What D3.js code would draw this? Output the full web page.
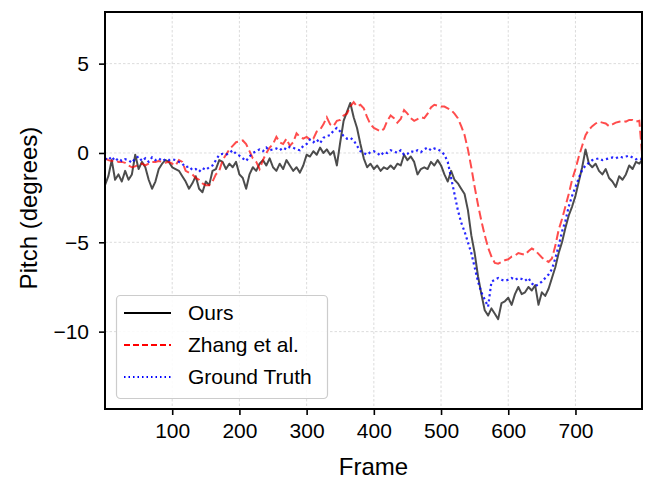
<!DOCTYPE html>
<html>
<head>
<meta charset="utf-8">
<script src="https://cdn.jsdelivr.net/npm/d3@7"></script>
<style>
  body { margin: 0; background: #fff; }
  svg { display: block; font-family: "Liberation Sans", Arial, sans-serif; }
</style>
</head>
<body>
<svg id="chart" width="649" height="479"></svg>
<script>
// frame index of every sample (every 5th frame + last frame)
var frames = d3.range(0, 800, 5).concat([799])

var ours = [-1.8,-1.3,-0.4,-1.5,-1.2,-1.6,-1.0,-1.5,-1.2,-0.1,
            -0.9,-0.5,-0.8,-1.5,-2.0,-1.6,-0.9,-0.6,-0.4,-0.5,
            -0.8,-0.9,-1.0,-1.3,-1.6,-2.0,-1.7,-1.3,-2.0,-2.2,
            -1.6,-1.8,-1.0,-0.9,-0.4,-0.5,-0.9,-0.6,-0.8,-0.5,
            -1.2,-1.4,-2.0,-1.2,-0.8,-1.0,-0.6,-0.4,-0.7,-0.3,
            -0.8,-1.0,-0.6,-0.9,-0.4,-0.7,-1.0,-0.8,-1.1,-0.7,
            -0.1,-0.2,0.1,-0.1,0.3,0.0,0.2,-0.1,0.1,-0.7,
            0.6,1.8,2.3,2.8,2.0,1.4,0.5,-0.3,-0.8,-0.6,
            -0.9,-0.7,-1.0,-0.8,-0.9,-0.7,-0.9,-0.6,-0.7,-0.1,
            -0.4,-0.2,-0.5,-1.2,-0.9,-0.8,-0.9,-0.5,-0.7,-0.4,
            -0.7,-1.2,-1.6,-1.0,-1.5,-1.7,-2.0,-2.3,-3.2,-4.6,
            -5.6,-6.9,-7.9,-8.8,-9.1,-8.7,-9.0,-9.3,-8.4,-8.3,
            -8.1,-8.5,-7.9,-7.5,-7.9,-7.8,-7.5,-7.7,-7.4,-8.5,
            -7.8,-8.0,-7.6,-7.0,-6.4,-5.6,-5.0,-4.2,-3.5,-3.0,
            -2.4,-1.6,-0.8,0.2,-0.6,-0.8,-0.6,-1.0,-1.2,-0.9,
            -1.4,-1.6,-1.9,-1.3,-1.5,-1.2,-0.7,-0.9,-0.5,-0.6,
            -0.4]

var zhang = [-0.3,-0.4,-0.45,-0.4,-0.5,-0.5,-0.55,-0.7,-0.8,-0.75,
             -0.65,-0.6,-0.7,-0.6,-0.5,-0.5,-0.45,-0.5,-0.55,-0.5,
             -0.6,-0.7,-0.4,-0.5,-1.0,-1.1,-1.2,-1.4,-1.5,-1.7,
             -1.8,-1.8,-1.6,-1.2,-1.0,-0.4,-0.1,0.2,0.4,0.6,
             0.65,0.7,0.5,0.1,-0.3,-0.5,-0.9,-0.4,0.0,0.3,
             0.5,0.9,0.6,0.5,0.8,0.4,0.6,1.1,0.9,0.8,
             0.9,0.75,0.8,1.2,1.3,1.6,2.0,1.6,1.5,1.8,
             1.85,2.1,2.2,2.6,2.85,2.6,2.7,2.5,2.0,1.6,
             1.4,1.3,1.2,1.35,1.8,2.1,1.95,1.7,1.9,2.4,
             2.2,1.95,1.8,1.9,2.0,1.95,2.2,2.55,2.7,2.65,
             2.6,2.6,2.5,2.4,2.2,1.95,1.5,1.0,0.2,-0.8,
             -1.9,-2.9,-3.8,-4.6,-5.3,-5.8,-6.15,-6.2,-6.1,-6.0,
             -5.95,-5.8,-5.75,-5.6,-5.65,-5.7,-5.5,-5.35,-5.45,-5.65,
             -5.85,-6.0,-6.1,-5.9,-5.2,-4.3,-3.7,-3.0,-2.3,-1.5,
             -0.9,-0.2,0.4,1.0,1.3,1.5,1.65,1.75,1.7,1.65,
             1.5,1.6,1.7,1.75,1.8,1.75,1.85,1.85,1.75,1.8,
             0.0]

var groundTruth = [-0.3,-0.4,-0.2,-0.45,-0.3,-0.45,-0.35,-0.4,-0.55,-0.3,
                   -0.2,-0.45,-0.3,-0.5,-0.25,-0.4,-0.3,-0.45,-0.35,-0.4,
                   -0.35,-0.4,-0.5,-0.6,-0.8,-0.75,-0.95,-0.9,-1.05,-0.85,
                   -0.95,-0.8,-0.7,-0.4,-0.1,-0.05,-0.1,0.0,0.15,-0.05,
                   -0.15,-0.3,-0.45,-0.2,0.0,0.1,0.2,0.1,0.3,0.15,
                   0.2,0.25,0.15,0.3,0.2,0.35,0.3,0.2,0.15,0.4,
                   0.5,0.75,0.6,0.75,0.55,0.85,0.95,1.0,1.25,1.4,
                   1.2,0.95,0.8,0.85,0.7,0.4,0.1,0.0,-0.1,0.05,
                   0.1,0.0,-0.15,0.05,0.0,0.15,0.1,0.0,0.15,-0.1,
                   -0.05,0.1,0.05,0.15,0.05,0.2,0.3,0.15,0.25,0.2,
                   0.1,-0.1,-0.5,-1.4,-2.3,-3.2,-3.9,-4.4,-5.0,-5.6,
                   -6.4,-7.2,-7.8,-8.2,-8.6,-7.2,-7.1,-7.0,-7.1,-7.15,
                   -7.1,-7.0,-7.1,-7.0,-7.05,-7.15,-7.0,-7.3,-7.45,-7.35,
                   -7.2,-7.0,-6.8,-6.5,-5.9,-5.2,-4.4,-3.8,-3.0,-2.4,
                   -1.9,-1.4,-0.95,-0.7,-0.55,-0.4,-0.35,-0.3,-0.4,-0.35,
                   -0.3,-0.25,-0.3,-0.2,-0.25,-0.2,-0.15,-0.25,-0.35,-0.3,
                   -0.35]

var xTicks = [100, 200, 300, 400, 500, 600, 700]
var yTicks = [5, 0, -5, -10]

var svg = d3.select("#chart")
var pLeft = 105, pRight = 642, pTop = 12, pBottom = 409

var x = d3.scaleLinear().domain([0, 799]).range([pLeft, pRight])
var y = d3.scaleLinear().domain([-14.33, 7.89]).range([pBottom, pTop])

// grid
var grid = svg.append("g")
grid.selectAll(".gx").data(xTicks).enter().append("line")
    .attr("x1", d => x(d)).attr("x2", d => x(d))
    .attr("y1", pTop).attr("y2", pBottom)
    .attr("stroke", "#c4c4c4").attr("stroke-width", 0.6)
    .attr("stroke-dasharray", "2.5,2")
grid.selectAll(".gy").data(yTicks).enter().append("line")
    .attr("x1", pLeft).attr("x2", pRight)
    .attr("y1", d => y(d)).attr("y2", d => y(d))
    .attr("stroke", "#c4c4c4").attr("stroke-width", 0.6)
    .attr("stroke-dasharray", "2.5,2")

svg.append("clipPath").attr("id", "clip")
   .append("rect").attr("x", pLeft).attr("y", pTop)
   .attr("width", pRight - pLeft).attr("height", pBottom - pTop)

function lineFor(values) {
  return d3.line()
    .x((d, i) => x(frames[i]))
    .y(d => y(d))(values)
}

var plot = svg.append("g").attr("clip-path", "url(#clip)")
plot.append("path").attr("d", lineFor(ours))
    .attr("fill", "none").attr("stroke", "black").attr("stroke-opacity", 0.7)
    .attr("stroke-width", 2).attr("stroke-linejoin", "round")
plot.append("path").attr("d", lineFor(zhang))
    .attr("fill", "none").attr("stroke", "red").attr("stroke-opacity", 0.7)
    .attr("stroke-width", 2).attr("stroke-dasharray", "9,4")
plot.append("path").attr("d", lineFor(groundTruth))
    .attr("fill", "none").attr("stroke", "blue").attr("stroke-opacity", 0.85)
    .attr("stroke-width", 2.2).attr("stroke-dasharray", "2.2,3")

// axes
var xAxis = svg.append("g").attr("transform", "translate(0," + pBottom + ")")
    .call(d3.axisBottom(x).tickValues(xTicks).tickSize(6).tickPadding(8).tickSizeOuter(0))
var yAxis = svg.append("g").attr("transform", "translate(" + pLeft + ",0)")
    .call(d3.axisLeft(y).tickValues(yTicks).tickSize(6).tickPadding(10).tickSizeOuter(0)
          .tickFormat(d => d < 0 ? "\u2212" + Math.abs(d) : d))
;[xAxis, yAxis].forEach(function(a) {
  a.select(".domain").remove()
  a.selectAll(".tick line").attr("stroke", "black").attr("stroke-width", 1.6)
  a.selectAll(".tick text").attr("fill", "black").style("font-size", "21px")
    .style("font-family", "Liberation Sans, Arial, sans-serif")
})

svg.append("rect").attr("x", pLeft).attr("y", pTop)
   .attr("width", pRight - pLeft).attr("height", pBottom - pTop)
   .attr("fill", "none").attr("stroke", "black").attr("stroke-width", 2)

svg.append("text").attr("x", (pLeft + pRight) / 2).attr("y", 475)
   .attr("text-anchor", "middle").style("font-size", "24px").text("Frame")
svg.append("text").attr("transform", "translate(37,208) rotate(-90)")
   .attr("text-anchor", "middle").style("font-size", "24px").text("Pitch (degrees)")

// legend
var legendItems = [
  {label: "Ours", color: "black", dash: null},
  {label: "Zhang et al.", color: "red", dash: "6,3"},
  {label: "Ground Truth", color: "blue", dash: "1.5,3"}
]
var legend = svg.append("g")
legend.append("rect").attr("x", 116.5).attr("y", 295.5).attr("width", 211).attr("height", 103)
      .attr("rx", 4).attr("fill", "white").attr("fill-opacity", 0.85)
      .attr("stroke", "#cccccc").attr("stroke-width", 1.2)
var rows = legend.selectAll(".row").data(legendItems).enter().append("g")
    .attr("transform", (d, i) => "translate(0," + (313 + i * 32) + ")")
rows.append("line").attr("x1", 124).attr("x2", 171).attr("y1", 0).attr("y2", 0)
    .attr("stroke", d => d.color).attr("stroke-width", 1.8)
    .attr("stroke-dasharray", d => d.dash)
rows.append("text").attr("x", 188).attr("y", 0).attr("dy", "0.35em")
    .style("font-size", "21px").text(d => d.label)
</script>
</body>
</html>
